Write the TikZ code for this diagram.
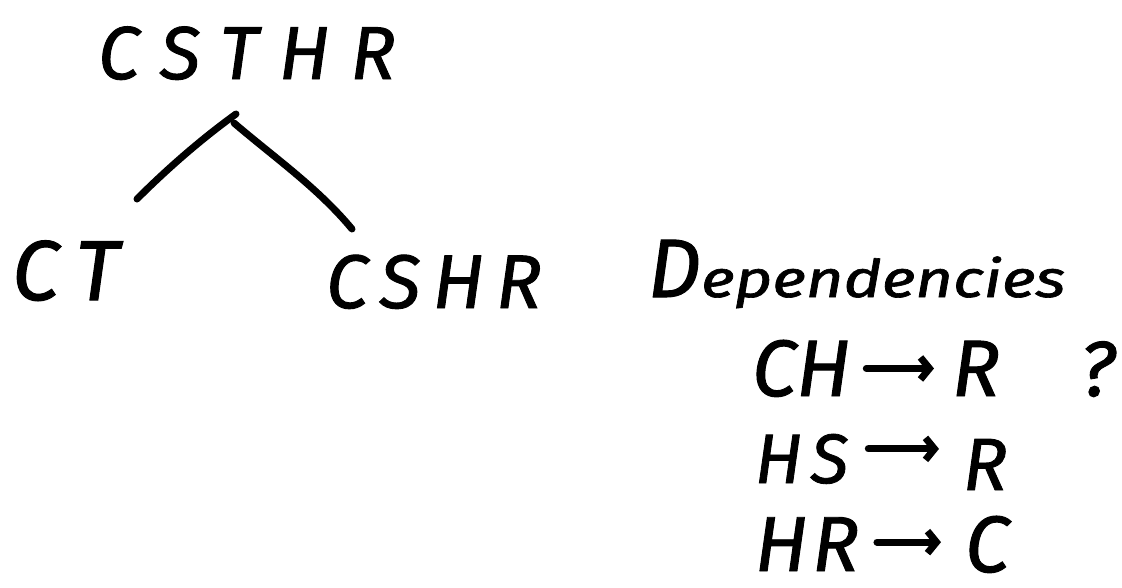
\documentclass[tikz,border=0pt]{standalone}
\usepackage{fontspec}
\setmainfont{Fira Sans}[ItalicFeatures={FakeBold=1.2}]
\usetikzlibrary{arrows.meta}
\tikzset{
  hand/.style={inner sep=0pt, outer sep=0pt, anchor=base west, font=\itshape},
  stroke/.style={line width=7pt, line cap=round, line join=round, black},
  arr/.style={line width=7pt, line cap=round, -{Straight Barb[length=9pt,width=22pt,line width=7pt]}}
}
\newcommand{\fs}[1]{\fontsize{#1}{#1}\selectfont}
\newcommand{\ls}[1]{\addfontfeature{LetterSpace=#1}}
\begin{document}
\begin{tikzpicture}[x=1pt,y=-1pt]
\useasboundingbox (0,0) rectangle (1122,587);
\fill[white] (0,0) rectangle (1122,587);
% tree
\node[hand] (top) at (98,79) {\fs{75}\ls{28}CSTHR};
\node[hand] (ct) at (12,300) {\fs{85}\ls{20}CT};
\node[hand] (cshr) at (326,308) {\fs{76}\ls{16}CSHR};
\coordinate (apex) at (236,114);
\coordinate (lend) at (137,199);
\coordinate (rstart) at (234,123);
\coordinate (rend) at (352,229);
\draw[stroke] (lend) .. controls (166,170) and (200,140) .. (apex);
\draw[stroke] (rstart) .. controls (275,158) and (318,188) .. (rend);
% dependencies
\node[hand] (dep) at (648,297) {\fs{83}D\fs{52}\scalebox{1.25}[1]{ependencies}};
\node[hand] (ch) at (752,396) {\fs{80}CH};
\node[hand] (r1) at (952,396) {\fs{80}R};
\node[hand] (q) at (1080,396) {\fs{78}?};
\node[hand] (hs) at (755,483) {\fs{70}\ls{12}HS};
\node[hand] (r2) at (963,490) {\fs{74}R};
\node[hand] (hr) at (755,571) {\fs{78}\ls{6}HR};
\node[hand] (c3) at (965,572) {\fs{80}C};
\draw[arr] ([xshift=16pt]ch.east) -- ([xshift=-18pt]ch.east -| r1.west);
\draw[arr] ([xshift=20pt,yshift=10pt]hs.east) -- ([xshift=-24pt,yshift=10pt]hs.east -| r2.west);
\draw[arr] ([xshift=18pt,yshift=2pt]hr.east) -- ([xshift=-24pt,yshift=2pt]hr.east -| c3.west);
\end{tikzpicture}
\end{document}
